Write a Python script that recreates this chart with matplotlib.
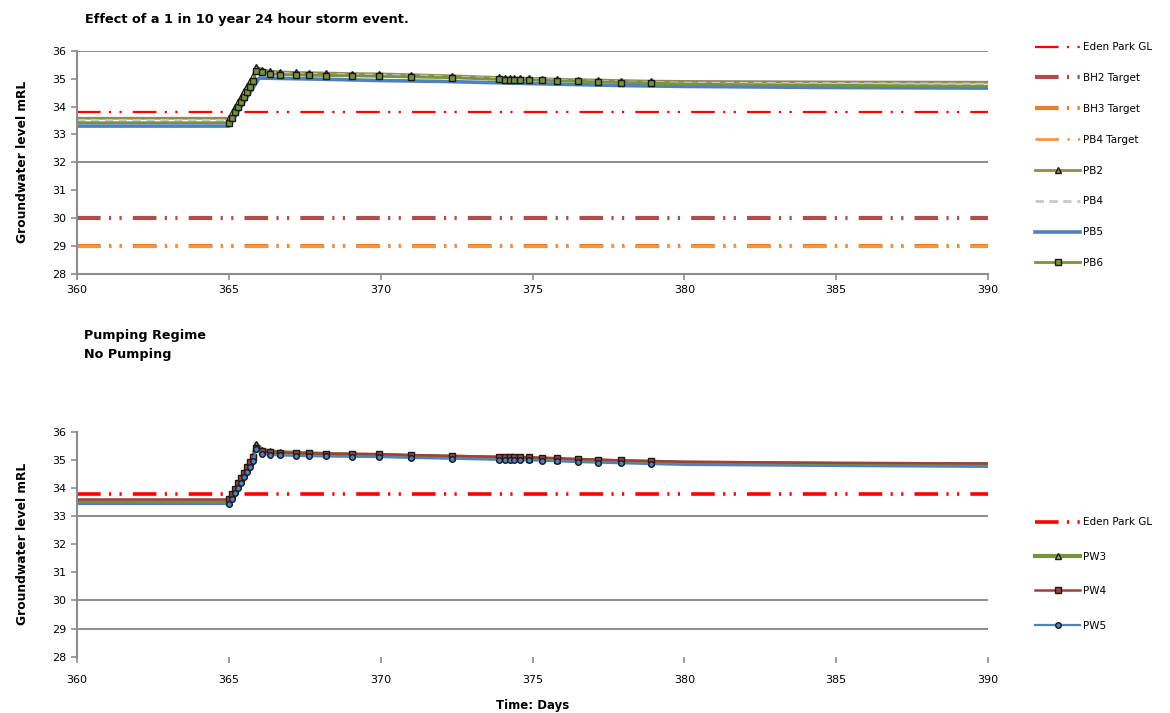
import matplotlib
matplotlib.use("Agg")
import matplotlib.pyplot as plt

plt.rcParams['font.family'] = ['DejaVu Sans']
plt.rcParams['lines.scale_dashes'] = False

# ---------------- data ----------------
x_ticks = [360, 365, 370, 375, 380, 385, 390]
y_ticks = [28, 29, 30, 31, 32, 33, 34, 35, 36]
x_range = [360, 390]

# top chart targets
eden_park_gl = 33.8
bh2_target = 30.0
bh3_target = 29.0
pb4_target = 29.0

# top chart monitored series (time in days)
t_top = [360, 365.0, 365.1, 365.2, 365.3, 365.4, 365.5, 365.6, 365.7, 365.8, 365.9,
         366.1, 366.35, 366.7, 367.2, 367.65, 368.2, 369.05, 369.95, 371.0, 372.35,
         373.9, 374.1, 374.25, 374.4, 374.6, 374.9, 375.3, 375.8, 376.5, 377.15,
         377.9, 378.9, 380, 385, 390]
pb2 = [33.58, 33.58, 33.78, 33.97, 34.16, 34.35, 34.54, 34.73, 34.92, 35.11, 35.43,
       35.32, 35.27, 35.24, 35.22, 35.21, 35.20, 35.18, 35.17, 35.14, 35.10,
       35.04, 35.03, 35.03, 35.02, 35.02, 35.01, 35.00, 34.98, 34.96, 34.95,
       34.93, 34.91, 34.90, 34.88, 34.87]
pb4 = [33.50, 33.50, 33.69, 33.88, 34.07, 34.26, 34.45, 34.64, 34.83, 35.02, 35.35,
       35.27, 35.22, 35.19, 35.17, 35.16, 35.15, 35.14, 35.12, 35.10, 35.06,
       35.00, 34.99, 34.99, 34.98, 34.98, 34.97, 34.96, 34.94, 34.92, 34.90,
       34.88, 34.86, 34.84, 34.82, 34.80]
pb6 = [33.42, 33.42, 33.60, 33.79, 33.97, 34.16, 34.34, 34.53, 34.71, 34.90, 35.28,
       35.22, 35.17, 35.14, 35.13, 35.12, 35.11, 35.10, 35.08, 35.06, 35.03,
       34.97, 34.96, 34.96, 34.96, 34.95, 34.95, 34.94, 34.92, 34.90, 34.88,
       34.86, 34.84, 34.80, 34.76, 34.73]
t_pb5 = [360, 365.0, 366.0, 368, 370, 372, 375, 378, 380, 385, 390]
pb5 = [33.30, 33.30, 35.02, 34.98, 34.93, 34.90, 34.82, 34.75, 34.72, 34.68, 34.66]

# bottom chart series
t_bot = t_top
pw3 = [33.51, 33.51, 33.71, 33.91, 34.11, 34.31, 34.51, 34.71, 34.91, 35.11, 35.56,
       35.35, 35.30, 35.27, 35.25, 35.23, 35.21, 35.19, 35.17, 35.14, 35.11,
       35.07, 35.06, 35.06, 35.05, 35.05, 35.04, 35.03, 35.01, 34.99, 34.97,
       34.95, 34.93, 34.90, 34.86, 34.84]
pw4 = [33.59, 33.59, 33.78, 33.97, 34.16, 34.35, 34.54, 34.73, 34.92, 35.11, 35.42,
       35.30, 35.27, 35.25, 35.24, 35.23, 35.22, 35.21, 35.20, 35.17, 35.14,
       35.11, 35.10, 35.10, 35.10, 35.09, 35.09, 35.08, 35.06, 35.03, 35.01,
       34.98, 34.96, 34.93, 34.89, 34.87]
pw5 = [33.43, 33.43, 33.62, 33.81, 34.00, 34.19, 34.38, 34.57, 34.76, 34.95, 35.38,
       35.22, 35.18, 35.16, 35.14, 35.13, 35.12, 35.11, 35.10, 35.07, 35.04,
       35.00, 34.99, 34.99, 34.99, 34.98, 34.98, 34.97, 34.95, 34.92, 34.90,
       34.88, 34.85, 34.82, 34.78, 34.75]

title_top = "Effect of a 1 in 10 year 24 hour storm event."
title_bot = "Pumping Regime\nNo Pumping"
ylabel = "Groundwater level mRL"
xlabel = "Time: Days"

# ---------------- styling ----------------
W, H = 1170, 713
fig = plt.figure(figsize=(W / 100, H / 100), dpi=100)

def fx(px):
    return px / W

def fy(py):
    return 1 - py / H

dashdotdot = (0, (17, 6, 1.6, 6, 1.6, 8))
grid_col = '#8c8c8c'
axis_col = '#8c8c8c'

def style_axes(ax, grid_vals, bottom_spine=True, xpad=4):
    ax.set_xlim(*x_range)
    ax.set_ylim(28, 36)
    ax.set_xticks(x_ticks)
    ax.set_yticks(y_ticks)
    ax.tick_params(axis='both', labelsize=8, colors='#000000', length=4,
                   width=1.2, direction='out', pad=4)
    ax.tick_params(axis='x', pad=xpad)
    ax.tick_params(axis='both', color=axis_col)
    for s in ['top', 'right']:
        ax.spines[s].set_visible(False)
    ax.spines['left'].set_color(axis_col)
    ax.spines['left'].set_linewidth(1.5)
    if bottom_spine:
        ax.spines['bottom'].set_color(axis_col)
        ax.spines['bottom'].set_linewidth(1.5)
    else:
        ax.spines['bottom'].set_visible(False)
    for g in grid_vals:
        ax.plot(x_range, [g, g], color=grid_col, lw=1.4, zorder=0.5)
    ax.set_ylabel(ylabel, fontsize=8.8, fontweight='bold', labelpad=16)

mark_top = [(365 <= t <= 379) for t in t_top]
mark_bot = [(365 <= t <= 379) for t in t_bot]

# ---------------- top chart ----------------
ax1 = fig.add_axes([fx(77), fy(274), fx(988) - fx(77), fy(50.7) - fy(274)])
style_axes(ax1, [36, 32], bottom_spine=True)

h = []
h += ax1.plot(x_range, [eden_park_gl] * 2, color='#ff0000', lw=1.6, ls=dashdotdot,
              label='Eden Park GL')
h += ax1.plot(x_range, [bh2_target] * 2, color='#a9504c', lw=3.0, ls=dashdotdot,
              label='BH2 Target')
h += ax1.plot(x_range, [bh3_target] * 2, color='#e8802a', lw=3.0, ls=dashdotdot,
              label='BH3 Target')
h += ax1.plot(x_range, [pb4_target] * 2, color='#f79646', lw=2.0, ls=dashdotdot,
              label='PB4 Target')
h += ax1.plot(t_top, pb2, color='#948a54', lw=2.0, marker='^', ms=5,
              mfc='#948a54', mec='#1a1a1a', mew=1.0, markevery=mark_top, label='PB2')
h += ax1.plot(t_top, pb4, color='#c8c8c8', lw=2.0, ls=(0, (6, 4)), label='PB4')
h += ax1.plot(t_pb5, pb5, color='#4f81bd', lw=2.6, label='PB5')
h += ax1.plot(t_top, pb6, color='#77933c', lw=2.0, marker='s', ms=4.5,
              mfc='#77933c', mec='#1a1a1a', mew=1.0, markevery=mark_top, label='PB6')

fig.legend(handles=h, loc='upper left', bbox_to_anchor=(fx(1031), fy(38)),
           frameon=False, fontsize=7.5, handlelength=4.3, handletextpad=0.3,
           labelspacing=2.0, borderaxespad=0)

fig.text(fx(85), fy(20), title_top, fontsize=9.3, fontweight='bold',
         ha='left', va='center')

# ---------------- bottom chart ----------------
ax2 = fig.add_axes([fx(77), fy(656.7), fx(988) - fx(77), fy(431.7) - fy(656.7)])
style_axes(ax2, [33, 30, 29], bottom_spine=False, xpad=9)

h2 = []
h2 += ax2.plot(x_range, [eden_park_gl] * 2, color='#ff0000', lw=2.6, ls=dashdotdot,
               label='Eden Park GL')
h2 += ax2.plot(t_bot, pw3, color='#77933c', lw=3.0, marker='^', ms=4.0,
               mfc='#9bbb59', mec='#1a1a1a', mew=1.0, markevery=mark_bot, label='PW3')
h2 += ax2.plot(t_bot, pw4, color='#a0403c', lw=1.8, marker='s', ms=4.0,
               mfc='#a0403c', mec='#1a1a1a', mew=1.0, markevery=mark_bot, label='PW4')
h2 += ax2.plot(t_bot, pw5, color='#4f81bd', lw=1.6, marker='o', ms=4.0,
               mfc='#4f81bd', mec='#1a1a1a', mew=1.0, markevery=mark_bot, label='PW5')

fig.legend(handles=h2, loc='upper left', bbox_to_anchor=(fx(1031), fy(513)),
           frameon=False, fontsize=7.5, handlelength=4.3, handletextpad=0.3,
           labelspacing=2.35, borderaxespad=0)

fig.text(fx(84), fy(345), title_bot, fontsize=9.2, fontweight='bold',
         ha='left', va='center', linespacing=1.6)
ax2.set_xlabel(xlabel, fontsize=8.5, fontweight='bold', labelpad=10)

fig.savefig('out.png', dpi=100, facecolor='white')
